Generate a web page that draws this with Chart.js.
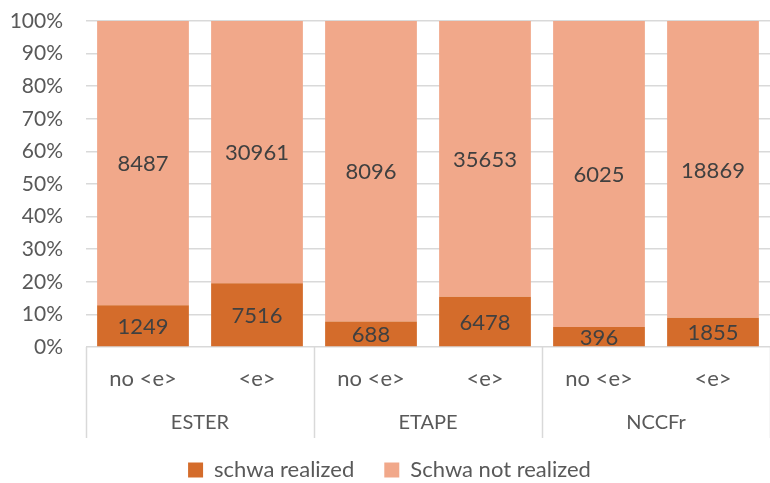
<!DOCTYPE html>
<html>
<head>
<meta charset="utf-8">
<script src="https://cdn.jsdelivr.net/npm/chart.js@4"></script>
<style>
  body { margin: 0; background: #fff; }
  #wrap { width: 770px; height: 483px; }
</style>
</head>
<body>
<div id="wrap"><canvas id="chart"></canvas></div>
<script>
const subLabels = ['no <e>', '<e>', 'no <e>', '<e>', 'no <e>', '<e>']
const groups = ['ESTER', 'ETAPE', 'NCCFr']
const realized = [1249, 7516, 688, 6478, 396, 1855]
const notRealized = [8487, 30961, 8096, 35653, 6025, 18869]
const seriesNames = ['schwa realized', 'Schwa not realized']
const yTicks = [0, 10, 20, 30, 40, 50, 60, 70, 80, 90, 100]

const darkOrange = '#D46C2B'
const lightOrange = '#F1A88A'
const textGrey = '#595959'
const lineGrey = '#D9D9D9'
const fontName = 'Lato, "Open Sans", sans-serif'

// percentages for the 100% stack
const totals = realized.map((v, i) => v + notRealized[i])
const realizedPct = realized.map((v, i) => v / totals[i] * 100)
const notRealizedPct = notRealized.map((v, i) => v / totals[i] * 100)
const counts = [realized, notRealized]

// value labels in the middle of each segment
const segmentLabels = {
    id: 'segmentLabels',
    afterDatasetsDraw(chart) {
        const ctx = chart.ctx
        ctx.save()
        ctx.font = '22px ' + fontName
        ctx.fillStyle = '#404040'
        ctx.textAlign = 'center'
        ctx.textBaseline = 'middle'
        chart.data.datasets.forEach((ds, d) => {
            chart.getDatasetMeta(d).data.forEach((bar, i) => {
                const mid = (bar.y + bar.base) / 2
                ctx.fillText(String(counts[d][i]), bar.x, mid + 1)
            })
        })
        ctx.restore()
    }
}

// second level of the category axis: group names and separators
const groupAxis = {
    id: 'groupAxis',
    afterDraw(chart) {
        const ctx = chart.ctx
        const x = chart.scales.x
        const area = chart.chartArea
        const step = x.getPixelForValue(1) - x.getPixelForValue(0)
        ctx.save()
        ctx.strokeStyle = lineGrey
        ctx.lineWidth = 1.5
        ctx.beginPath()
        for (let g = 0; g <= groups.length; g++) {
            const px = Math.round(x.getPixelForValue(g * 2) - step / 2) + 0.5
            ctx.moveTo(px, area.bottom)
            ctx.lineTo(px, area.bottom + 91)
        }
        ctx.stroke()
        ctx.font = '20px ' + fontName
        ctx.fillStyle = textGrey
        ctx.textAlign = 'center'
        ctx.textBaseline = 'middle'
        groups.forEach((name, g) => {
            const cx = (x.getPixelForValue(g * 2) + x.getPixelForValue(g * 2 + 1)) / 2
            ctx.fillText(name, cx, area.bottom + 76)
        })
        ctx.restore()
    }
}

new Chart(document.getElementById('chart'), {
    type: 'bar',
    data: {
        labels: subLabels,
        datasets: [{
            label: seriesNames[0],
            data: realizedPct,
            backgroundColor: darkOrange,
            borderWidth: 0,
            categoryPercentage: 0.805,
            barPercentage: 1
        }, {
            label: seriesNames[1],
            data: notRealizedPct,
            backgroundColor: lightOrange,
            borderWidth: 0,
            categoryPercentage: 0.805,
            barPercentage: 1
        }]
    },
    options: {
        responsive: true,
        maintainAspectRatio: false,
        animation: false,
        // the original plot runs past the right edge of the picture
        layout: { padding: { top: 21, right: -9, left: 0, bottom: -8 } },
        plugins: {
            legend: {
                position: 'bottom',
                labels: {
                    boxWidth: 15,
                    boxHeight: 15,
                    padding: 30,
                    color: textGrey,
                    font: { size: 22, family: fontName }
                }
            },
            tooltip: { enabled: false }
        },
        scales: {
            x: {
                stacked: true,
                grid: { display: false },
                border: { display: false },
                ticks: {
                    color: textGrey,
                    font: { size: 22, family: fontName },
                    padding: 11,
                    maxRotation: 0
                },
                afterFit: (scale) => {
                    scale.height = 82
                    scale.paddingLeft = 0
                    scale.paddingRight = 0
                }
            },
            y: {
                stacked: true,
                min: 0,
                max: 100,
                afterBuildTicks: (scale) => { scale.ticks = yTicks.map(v => ({ value: v })) },
                grid: { color: lineGrey, lineWidth: 1.5, drawTicks: false },
                border: { display: false },
                ticks: {
                    color: textGrey,
                    font: { size: 21, family: fontName },
                    padding: 23,
                    callback: v => v + '%'
                },
                afterFit: (scale) => {
                    scale.width = 86
                    scale.paddingTop = 0
                    scale.paddingBottom = 0
                }
            }
        }
    },
    plugins: [segmentLabels, groupAxis]
})
</script>
</body>
</html>
